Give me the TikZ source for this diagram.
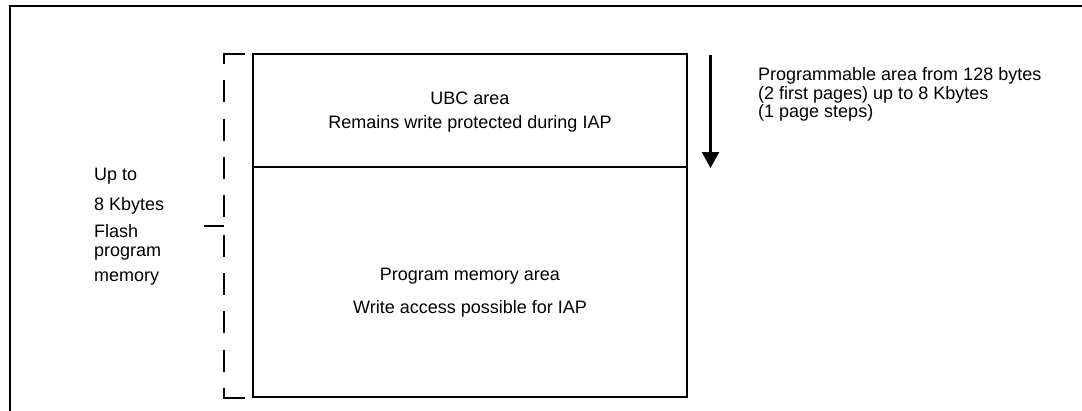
\documentclass[tikz,border=0pt]{standalone}
\usepackage{fontspec}
\setmainfont{Liberation Sans}
\usetikzlibrary{arrows.meta}
\tikzset{
  frame/.style={line width=2.4pt},
  membox/.style={draw, line width=2.4pt, minimum width=434pt, inner sep=0pt, outer sep=0pt, anchor=north west},
  txt/.style={inner sep=0pt, font=\fontsize{18}{19}\selectfont},
  bracket/.style={line width=2.4pt, dash pattern=on 22pt off 16.3pt, dash phase=12pt},
  fill arrow/.style={line width=2.6pt, -{Triangle[width=17pt,length=16pt]}},
}
\begin{document}
\begin{tikzpicture}[x=1pt, y=-1pt]
  \useasboundingbox (0,0) rectangle (1082,410);
  % outer frame
  \draw[frame] (10,411) -- (10,6) -- (1090,6);
  % memory areas
  \node[membox, minimum height=113pt] (ubc) at (253,54) {};
  \node[membox, minimum height=230pt] (pmem) at (253,167) {};
  \node[txt, anchor=base] (ubcname) at (470,104) {UBC area};
  \node[txt, anchor=base] (ubcnote) at (470,128) {Remains write protected during IAP};
  \node[txt, anchor=base] (pmemname) at (470,280) {Program memory area};
  \node[txt, anchor=base] (pmemnote) at (470,313) {Write access possible for IAP};
  % programmable range
  \coordinate (rtop) at (710.5,55);
  \coordinate (rbot) at (710.5,168);
  \draw[fill arrow] (rtop) -- (rbot);
  \node[txt, anchor=base west] (range1) at (758,80) {Programmable area from 128 bytes};
  \node[txt, anchor=base west] (range2) at (758,99) {(2 first pages) up to 8 Kbytes};
  \node[txt, anchor=base west] (range3) at (758,117.5) {(1 page steps)};
  % flash size bracket
  \coordinate (btop) at (224,54);
  \coordinate (bmid) at (224,226);
  \coordinate (bbot) at (224,398);
  \draw[bracket] (btop) -- (bmid);
  \draw[bracket] (bbot) -- (bmid);
  \draw[frame] (245,54) -- (223,54);
  \draw[frame] (245,398) -- (223,398);
  \draw[frame] (204,226) -- (bmid);
  \node[txt, anchor=base west] (size1) at (94,180.7) {Up to};
  \node[txt, anchor=base west] (size2) at (94,210) {8 Kbytes};
  \node[txt, anchor=base west] (size3) at (94,237.7) {Flash};
  \node[txt, anchor=base west] (size4) at (94,256.7) {program};
  \node[txt, anchor=base west] (size5) at (94,281.7) {memory};
\end{tikzpicture}
\end{document}
